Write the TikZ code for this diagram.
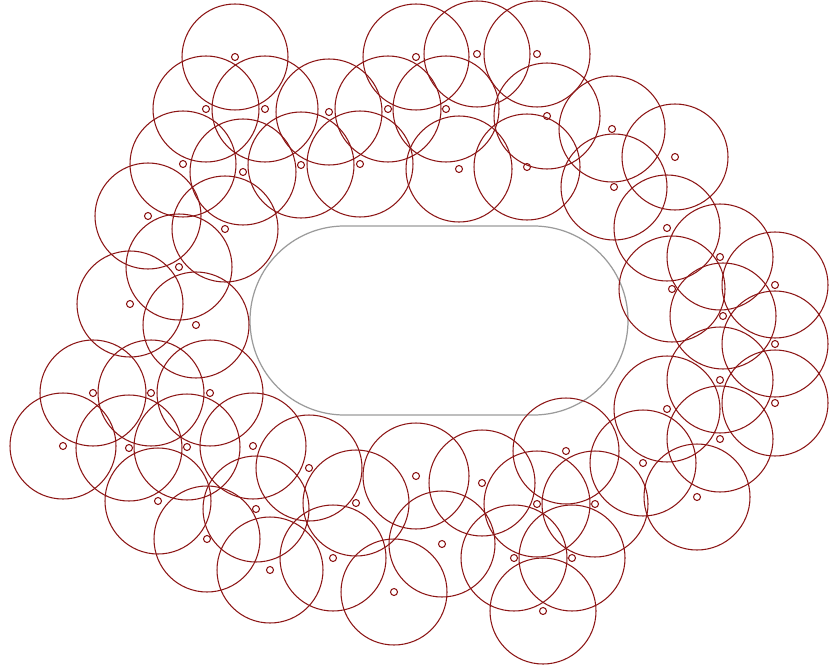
\documentclass[tikz,border=0pt]{standalone}
\usepackage{tikz}
\usetikzlibrary{calc}

\definecolor{ringred}{RGB}{140,22,22}
\definecolor{trackgray}{RGB}{155,155,155}

\tikzset{
    ring/.style={draw=ringred, line width=0.6pt},
    hub/.style={draw=ringred, line width=0.6pt},
    track/.style={draw=trackgray, line width=0.7pt, rounded corners=1.89cm}
}

\begin{document}
\begin{tikzpicture}[x=0.02cm, y=-0.02cm]
        \useasboundingbox (0,0) rectangle (830,665);
        % inner track
        \draw[track] (250,226) rectangle (628,415);
        % coverage circles with their centres
        \foreach \cx/\cy in {235/57, 206/109, 265/109, 183/164, 243/172, 148/216,
                             416/57, 477/54, 537/54, 329/112, 388/109, 446/109,
                             547/116, 301/165, 360/164, 459/169, 527/167,
                             612/129, 675/157, 614/187,
                             225/229, 179/267, 130/304, 196/325, 93/393, 151/393, 210/393,
                             667/228, 720/257, 775/285, 672/289, 723/316, 775/344,
                             720/380, 775/403, 667/409, 720/439,
                             63/446, 129/448, 187/447, 253/446, 158/501, 256/509, 207/539, 270/570,
                             309/468, 416/476, 482/483, 356/503, 537/504, 442/544,
                             333/558, 514/558, 394/592, 543/611,
                             566/451, 643/463, 595/504, 697/497, 572/558} {
            \draw[ring] (\cx,\cy) circle[radius=53];
            \draw[hub]  (\cx,\cy) circle[radius=3.5];
        }
    \end{tikzpicture}
\end{document}
